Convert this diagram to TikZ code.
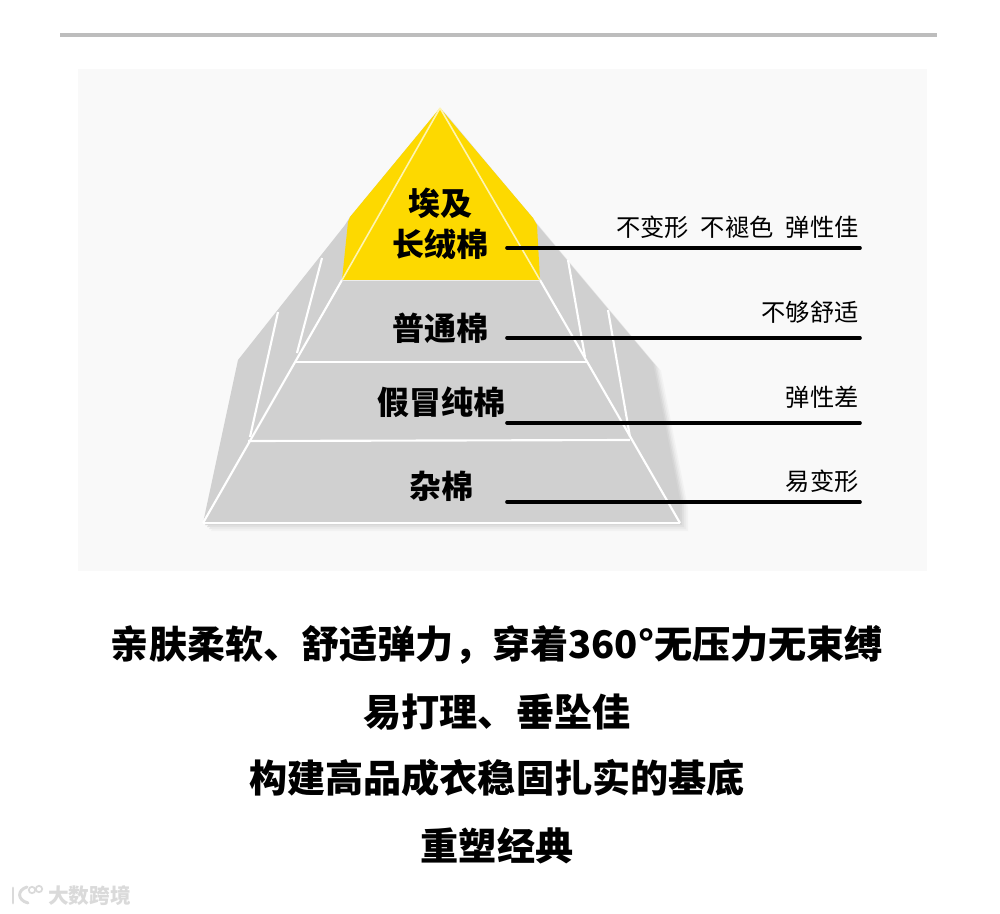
\documentclass[tikz,border=0pt]{standalone}
\usepackage{fontspec}
\setmainfont{Noto Sans CJK SC}
\definecolor{bgpanel}{HTML}{F9F9F9}
\definecolor{pyr}{HTML}{D0D0D0}
\definecolor{gold}{HTML}{FDD900}
\definecolor{rulegray}{HTML}{BDBDBD}
\definecolor{wm}{HTML}{DADADA}
\tikzset{
  px/.style={x=0.75pt,y=-0.75pt},
  tier/.style={font=\fontsize{24}{28}\selectfont\bfseries,text=black,inner sep=0pt,align=center},
  note/.style={font=\fontsize{18.2}{22}\selectfont,text=black,inner sep=0pt,anchor=east},
  slogan/.style={font=\fontsize{28.6}{34}\selectfont\bfseries,text=black,inner sep=0pt},
  leader/.style={line width=2.7pt,black,line cap=round},
  facet/.style={line width=1.6pt,white},
  facetgold/.style={line width=1.2pt,white!70!gold},
  wmark/.style={font=\fontsize{15.5}{18}\selectfont\bfseries,text=wm,inner sep=0pt,anchor=west},
}
\begin{document}
\begin{tikzpicture}[px]
\useasboundingbox (0,0) rectangle (1000,914);
\fill[white] (0,0) rectangle (1000,914);
\draw[rulegray,line width=3pt] (60,35) -- (937,35);
\fill[bgpanel] (78,69) rectangle (927,571);
% soft shadow
\foreach \d/\c in {8/F2F2F2,6/EAEAEA,4/E0E0E0,2/D6D6D6}{
  \definecolor{sh}{HTML}{\c}
  \fill[sh,shift={(\d,\d)}] (440,108) -- (537,225) -- (653,363) -- (680,500) -- (680,523) -- (203,523) -- cycle;
}
% pyramid
\coordinate (apex) at (440,108);
\coordinate (bl) at (203,523);
\coordinate (br) at (680,523);
\fill[pyr] (apex) -- (533,218) -- (537,225) -- (653,363) -- (680,500) -- (br) -- (bl) -- (238,360) -- (345,225) -- (350,217) -- cycle;
\fill[gold] (apex) -- (533,218) -- (537,225) -- (540,280) -- (342,280) -- (348,222) -- (350,217) -- cycle;
\draw[facetgold] (apex) -- (342,280);
\draw[facetgold] (apex) -- (540,280);
\draw[facet] (342,280) -- (bl);
\draw[facet] (540,280) -- (br);
\draw[line width=1pt,white!60!pyr] (342,280.5) -- (540,280.5);
\draw[facet] (295,362) -- (587,362);
\draw[facet] (248,441) -- (630,440);
\draw[facet] (bl) -- (br);
\draw[facet] (322,258) -- (297,353);
\draw[facet] (278,312) -- (250,437);
\draw[facet] (568,260) -- (585,357);
\draw[facet] (608,310) -- (630,437);
% tier labels
\node[tier] (t1a) at (440,203) {埃及};
\node[tier] (t1b) at (440,245) {长绒棉};
\node[tier] (t2) at (440,328) {普通棉};
\node[tier] (t3) at (441,402) {假冒纯棉};
\node[tier] (t4) at (441,486) {杂棉};
% leaders
\foreach \n/\y in {1/248,2/338,3/423,4/502}{
  \coordinate (la\n) at (507,\y);
  \coordinate (lb\n) at (860,\y);
  \draw[leader] (la\n) -- (lb\n);
}
% notes
\node[note] (n1) at (859,227) {不变形\hspace{0.5em}不褪色\hspace{0.5em}弹性佳};
\node[note] (n2) at (859,312) {不够舒适};
\node[note] (n3) at (859,397) {弹性差};
\node[note] (n4) at (859,481) {易变形};
% slogans
\node[slogan] (s1) at (497,645) {亲肤柔软、舒适弹力，穿着360°无压力无束缚};
\node[slogan] (s2) at (497,712) {易打理、垂坠佳};
\node[slogan] (s3) at (497,778) {构建高品成衣稳固扎实的基底};
\node[slogan] (s4) at (497,846) {重塑经典};
% watermark
\draw[wm,line width=2.2pt,line cap=round] (13,888) -- (13,903);
\draw[wm,line width=2.2pt,line cap=round] (27,887) .. controls (17,890) and (17,900) .. (28,903);
\draw[wm,line width=1.3pt] (32,890) circle (3.2);
\draw[wm,line width=1.3pt] (39,889) circle (3.2);
\node[wmark] (wm) at (48,896) {大数跨境};
\end{tikzpicture}
\end{document}
